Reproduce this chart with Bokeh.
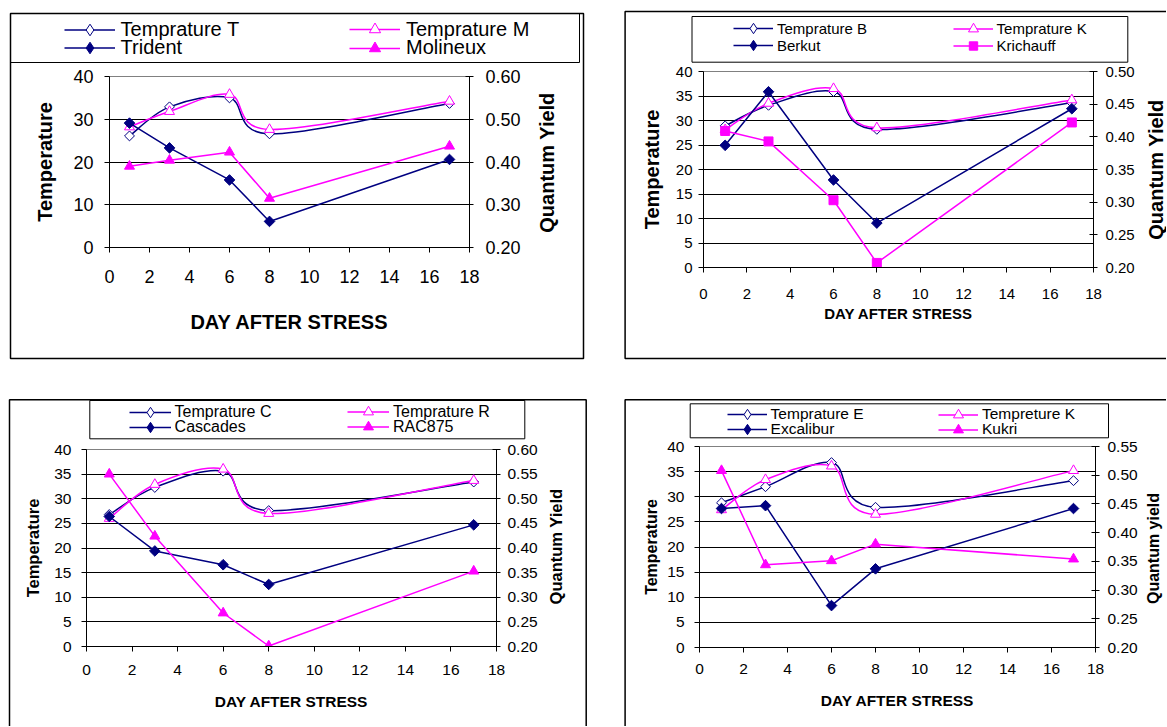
import numpy as np
from bokeh.plotting import figure
from bokeh.models import (Range1d, LinearAxis, FixedTicker, Legend, LegendItem,
                          BoxAnnotation, Label, PrintfTickFormatter, ColumnDataSource,
                          GridBox)
from bokeh.layouts import column
from bokeh.embed import file_html
from bokeh.resources import INLINE

# ---------------- data ----------------
days = [1, 3, 6, 8, 17]
x_ticks = [0, 2, 4, 6, 8, 10, 12, 14, 16, 18]

# panel 1 (Trident / Molineux)
p1_temp_T = [26.1, 32.9, 35.0, 26.6, 33.7]
p1_temp_M = [28.2, 31.8, 35.8, 27.6, 34.2]
p1_trident = [0.491, 0.433, 0.358, 0.261, 0.406]
p1_molineux = [0.390, 0.404, 0.423, 0.315, 0.437]
p1_labels = ["Temprature T", "Trident", "Temprature M", "Molineux"]
p1_temp_ticks = [0, 10, 20, 30, 40]
p1_qy_ticks = [0.20, 0.30, 0.40, 0.50, 0.60]

# panel 2 (Berkut / Krichauff)
p2_temp_B = [28.9, 33.1, 35.9, 28.2, 33.6]
p2_temp_K = [28.1, 33.5, 36.5, 28.5, 34.2]
p2_berkut = [0.387, 0.469, 0.334, 0.268, 0.443]
p2_krichauff = [0.409, 0.393, 0.303, 0.207, 0.422]
p2_labels = ["Temprature B", "Berkut", "Temprature K", "Krichauff"]
p2_temp_ticks = [0, 5, 10, 15, 20, 25, 30, 35, 40]
p2_qy_ticks = [0.20, 0.25, 0.30, 0.35, 0.40, 0.45, 0.50]

# panel 3 (Cascades / RAC875)
p3_temp_C = [26.8, 32.3, 35.6, 27.6, 33.4]
p3_temp_R = [26.0, 32.9, 36.0, 27.0, 33.7]
p3_cascades = [0.464, 0.394, 0.366, 0.326, 0.447]
p3_rac875 = [0.550, 0.424, 0.268, 0.201, 0.353]
p3_labels = ["Temprature C", "Cascades", "Temprature R", "RAC875"]
p3_temp_ticks = [0, 5, 10, 15, 20, 25, 30, 35, 40]
p3_qy_ticks = [0.20, 0.25, 0.30, 0.35, 0.40, 0.45, 0.50, 0.55, 0.60]

# panel 4 (Excalibur / Kukri)
p4_temp_E = [28.8, 32.0, 36.8, 27.9, 33.2]
p4_temp_K = [27.4, 33.4, 36.1, 26.5, 35.2]
p4_excalibur = [0.442, 0.447, 0.273, 0.337, 0.442]
p4_kukri = [0.508, 0.344, 0.351, 0.380, 0.354]
p4_labels = ["Temprature E", "Excalibur", "Tempreture K", "Kukri"]
p4_temp_ticks = [0, 5, 10, 15, 20, 25, 30, 35, 40]
p4_qy_ticks = [0.20, 0.25, 0.30, 0.35, 0.40, 0.45, 0.50, 0.55]

NAVY = "#000080"
MAGENTA = "#FF00FF"
FONT = "Liberation Sans"
PAGE_W, PAGE_H = 1166, 726


def bezier_source(xs, ys):
    """Smoothed (Catmull-Rom style) curve segments through the data points."""
    x = np.asarray(xs, float)
    y = np.asarray(ys, float)
    xp = np.concatenate([[x[0]], x, [x[-1]]])
    yp = np.concatenate([[y[0]], y, [y[-1]]])
    i = np.arange(len(x) - 1)
    return ColumnDataSource(dict(
        x0=xp[i + 1], y0=yp[i + 1], x1=xp[i + 2], y1=yp[i + 2],
        cx0=xp[i + 1] + (xp[i + 2] - xp[i]) / 6.0,
        cy0=yp[i + 1] + (yp[i + 2] - yp[i]) / 6.0,
        cx1=xp[i + 2] - (xp[i + 3] - xp[i + 1]) / 6.0,
        cy1=yp[i + 2] - (yp[i + 3] - yp[i + 1]) / 6.0,
    ))


# chart marker styles; "lm"/"lmsz" = marker and size factor used in the legends
STYLES = {
    "tA": dict(color=NAVY, marker="square", angle=np.pi / 4, size=7, fill="white",
               lm="diamond", lmsz=1.05),
    "qA": dict(color=NAVY, marker="square", angle=np.pi / 4, size=7.5, fill=NAVY,
               lm="diamond", lmsz=1.05),
    "tB": dict(color=MAGENTA, marker="triangle", angle=0.0, size=10, fill="white",
               lm="triangle", lmsz=1.0),
    "qBt": dict(color=MAGENTA, marker="triangle", angle=0.0, size=10, fill=MAGENTA,
                lm="triangle", lmsz=1.0),
    "qBs": dict(color=MAGENTA, marker="square", angle=0.0, size=9, fill=MAGENTA,
                lm="square", lmsz=0.85),
}


def style_axis(ax, cfg, tick_in, tick_out, std):
    ax.major_label_text_font = FONT
    ax.major_label_text_font_size = cfg["tick_fs"]
    ax.major_label_text_color = "black"
    ax.major_tick_in = tick_in
    ax.major_tick_out = tick_out
    ax.minor_tick_line_color = None
    ax.axis_line_color = "black"
    ax.major_tick_line_color = "black"
    ax.major_label_standoff = std


def make_chart(cfg, tA, qA, tB, qB, temp_ticks, qy_ticks, qB_style):
    ox, oy = cfg["origin"]
    W, H = cfg["W"], cfg["H"]
    fl, ft, fw, fh = cfg["frame"]
    left, top = fl - ox, ft - oy
    p = figure(width=W, height=H, output_backend="svg", toolbar_location=None,
               x_range=Range1d(0, 18), y_range=Range1d(temp_ticks[0], temp_ticks[-1]),
               min_border_left=int(left), min_border_top=int(top),
               min_border_right=int(W - left - fw), min_border_bottom=int(H - top - fh))
    p.background_fill_color = "white"
    p.border_fill_color = None
    p.outline_line_color = "#808080"
    p.outline_line_width = 1
    p.extra_y_ranges = {"qy": Range1d(qy_ticks[0], qy_ticks[-1])}

    xa = p.xaxis[0]
    xa.ticker = FixedTicker(ticks=x_ticks)
    style_axis(xa, cfg, 0, 5, cfg["x_std"])
    xa.axis_label = "DAY AFTER STRESS"
    xa.axis_label_text_font = FONT
    xa.axis_label_text_font_style = "bold"
    xa.axis_label_text_font_size = cfg["xt_fs"]
    xa.axis_label_text_color = "black"
    xa.axis_label_standoff = cfg["x_lstd"]

    ya = p.yaxis[0]
    ya.ticker = FixedTicker(ticks=temp_ticks)
    style_axis(ya, cfg, 0, 5, cfg["y_std"])
    ya.axis_label = "Temperature"
    ya.axis_label_text_font = FONT
    ya.axis_label_text_font_style = "bold"
    ya.axis_label_text_font_size = cfg["yt_fs"]
    ya.axis_label_text_color = "black"
    ya.axis_label_standoff = cfg["y_lstd"]

    ra = LinearAxis(y_range_name="qy", ticker=FixedTicker(ticks=qy_ticks),
                    formatter=PrintfTickFormatter(format="%.2f"))
    style_axis(ra, cfg, 4, 4, cfg["r_std"])
    p.add_layout(ra, "right")

    p.xgrid.visible = False
    p.ygrid.ticker = FixedTicker(ticks=temp_ticks[1:-1])
    p.ygrid.grid_line_color = "black"
    p.ygrid.grid_line_width = 1

    lw = 1.5
    for vals, key in ((tA, "tA"), (tB, "tB")):
        st = STYLES[key]
        p.bezier(x0="x0", y0="y0", x1="x1", y1="y1", cx0="cx0", cy0="cy0",
                 cx1="cx1", cy1="cy1", source=bezier_source(days, vals),
                 line_color=st["color"], line_width=lw)
        p.scatter(days, vals, marker=st["marker"], angle=st["angle"], size=st["size"],
                  line_color=st["color"], fill_color=st["fill"], line_width=1)
    for vals, key in ((qA, "qA"), (qB, qB_style)):
        st = STYLES[key]
        p.line(days, vals, y_range_name="qy", line_color=st["color"], line_width=lw)
        p.scatter(days, vals, y_range_name="qy", marker=st["marker"], angle=st["angle"],
                  size=st["size"], line_color=st["color"], fill_color=st["fill"])
    return p


def decorate_background(bg, cfg, labels, series, keys):
    # panel border and legend box
    for (l, t, r, b), w in ((cfg["border"], 1.5), (cfg["lbox"], 1)):
        bg.add_layout(BoxAnnotation(left=l, right=r, top=t, bottom=b,
                                    fill_color=None, fill_alpha=0, line_color="black",
                                    line_alpha=1, line_width=w))
    gx, cp, gw, so, r1, rp, lfs, msz = cfg["legend"]
    for k, (lab, vals, key) in enumerate(zip(labels, series, keys)):
        st = STYLES[key]
        # legend marker size is 0.4 * glyph height, so the glyph box sets it
        gh = int(round(msz * st["lmsz"] / 0.4))
        ln = bg.line(days, vals, line_color=st["color"], line_width=1.5, visible=False)
        sc = bg.scatter(days, vals, marker=st["lm"], size=st["size"],
                        line_color=st["color"], fill_color=st["fill"], visible=False)
        col, rw = k // 2, k % 2
        x = gx + col * cp
        yc = r1 + rw * rp
        top = yc - gh / 2.0
        leg = Legend(items=[LegendItem(label=lab, renderers=[ln, sc])],
                     location=(float(x), float(PAGE_H - top - gh)),
                     orientation="vertical", padding=0, margin=0, spacing=0,
                     glyph_width=int(gw), glyph_height=gh, label_height=gh,
                     label_standoff=int(round(so)), border_line_color=None,
                     background_fill_alpha=0, inactive_fill_alpha=0,
                     label_text_font=FONT, label_text_font_size=lfs,
                     label_text_color="black", label_text_baseline="middle")
        bg.add_layout(leg, "center")
    qx, qyc = cfg["qy"]
    bg.add_layout(Label(x=qx, y=qyc, text=cfg["qy_text"], angle=90, angle_units="deg",
                        text_align="center", text_baseline="middle",
                        text_font=FONT, text_font_style="bold",
                        text_font_size=cfg["qt_fs"], text_color="black"))


cfg1 = dict(origin=(0, 0), W=604, H=380, frame=(109, 76, 360, 171),
            border=(10, 13, 583, 358), lbox=(10, 13, 579, 62),
            legend=(63.6, 285.4, 51, 6, 29.3, 18.4, "20px", 11.0),
            tick_fs="18px", xt_fs="20px", yt_fs="20px", qt_fs="20px",
            x_std=17, x_lstd=25, y_std=11, y_lstd=14, r_std=12,
            qy=(546.4, 162), qy_text="Quantum Yield")
cfg2 = dict(origin=(604, 0), W=562, H=380, frame=(703, 71, 390, 196),
            border=(624.6, 11, 1300, 358), lbox=(691.5, 16, 1127.3, 61.7),
            legend=(733, 219.6, 40, 3.5, 28.3, 16.7, "15px", 10.0),
            tick_fs="15px", xt_fs="15px", yt_fs="20px", qt_fs="20px",
            x_std=16, x_lstd=3, y_std=6, y_lstd=10, r_std=8,
            qy=(1155, 169), qy_text="Quantum Yield")
cfg3 = dict(origin=(0, 380), W=604, H=346, frame=(86, 449, 410, 197),
            border=(9, 399.3, 585.7, 900), lbox=(89.3, 400, 524.3, 438.3),
            legend=(128.6, 218.4, 42, 3.6, 411.7, 15.0, "16px", 10.0),
            tick_fs="15.5px", xt_fs="15.5px", yt_fs="16.5px", qt_fs="16.5px",
            x_std=13, x_lstd=15, y_std=10, y_lstd=9, r_std=7,
            qy=(555, 546), qy_text="Quantum Yield")
cfg4 = dict(origin=(604, 380), W=562, H=346, frame=(699, 446, 396, 201),
            border=(624.6, 399.3, 1300, 900), lbox=(689.7, 403.3, 1108, 437.3),
            legend=(726.6, 211.4, 40, 3.5, 414, 15.3, "15.5px", 10.0),
            tick_fs="15.5px", xt_fs="15.5px", yt_fs="16px", qt_fs="16px",
            x_std=11, x_lstd=15, y_std=10, y_lstd=4, r_std=8,
            qy=(1153.3, 548), qy_text="Quantum yield")

panels = [
    (cfg1, p1_temp_T, p1_trident, p1_temp_M, p1_molineux, p1_labels, p1_temp_ticks, p1_qy_ticks, "qBt"),
    (cfg2, p2_temp_B, p2_berkut, p2_temp_K, p2_krichauff, p2_labels, p2_temp_ticks, p2_qy_ticks, "qBs"),
    (cfg3, p3_temp_C, p3_cascades, p3_temp_R, p3_rac875, p3_labels, p3_temp_ticks, p3_qy_ticks, "qBt"),
    (cfg4, p4_temp_E, p4_excalibur, p4_temp_K, p4_kukri, p4_labels, p4_temp_ticks, p4_qy_ticks, "qBt"),
]

# background figure: page-pixel coordinates, holds panel frames, legends, right titles
bg = figure(width=PAGE_W, height=PAGE_H, output_backend="svg", toolbar_location=None,
            x_range=Range1d(0, PAGE_W), y_range=Range1d(PAGE_H, 0),
            x_axis_type=None, y_axis_type=None, min_border=0)
bg.outline_line_color = None
bg.background_fill_color = "white"
bg.border_fill_color = "white"

charts = []
for cfg, tA, qA, tB, qB, labels, tt, qt, qs in panels:
    charts.append(make_chart(cfg, tA, qA, tB, qB, tt, qt, qs))
    decorate_background(bg, cfg, labels, [tA, qA, tB, qB], ["tA", "qA", "tB", qs])

grid = GridBox(children=[(column(bg), 0, 0, 2, 2),
                         (column(charts[0]), 0, 0), (column(charts[1]), 0, 1),
                         (column(charts[2]), 1, 0), (column(charts[3]), 1, 1)],
               spacing=0)
open("out.html", "w").write(file_html(grid, INLINE))
